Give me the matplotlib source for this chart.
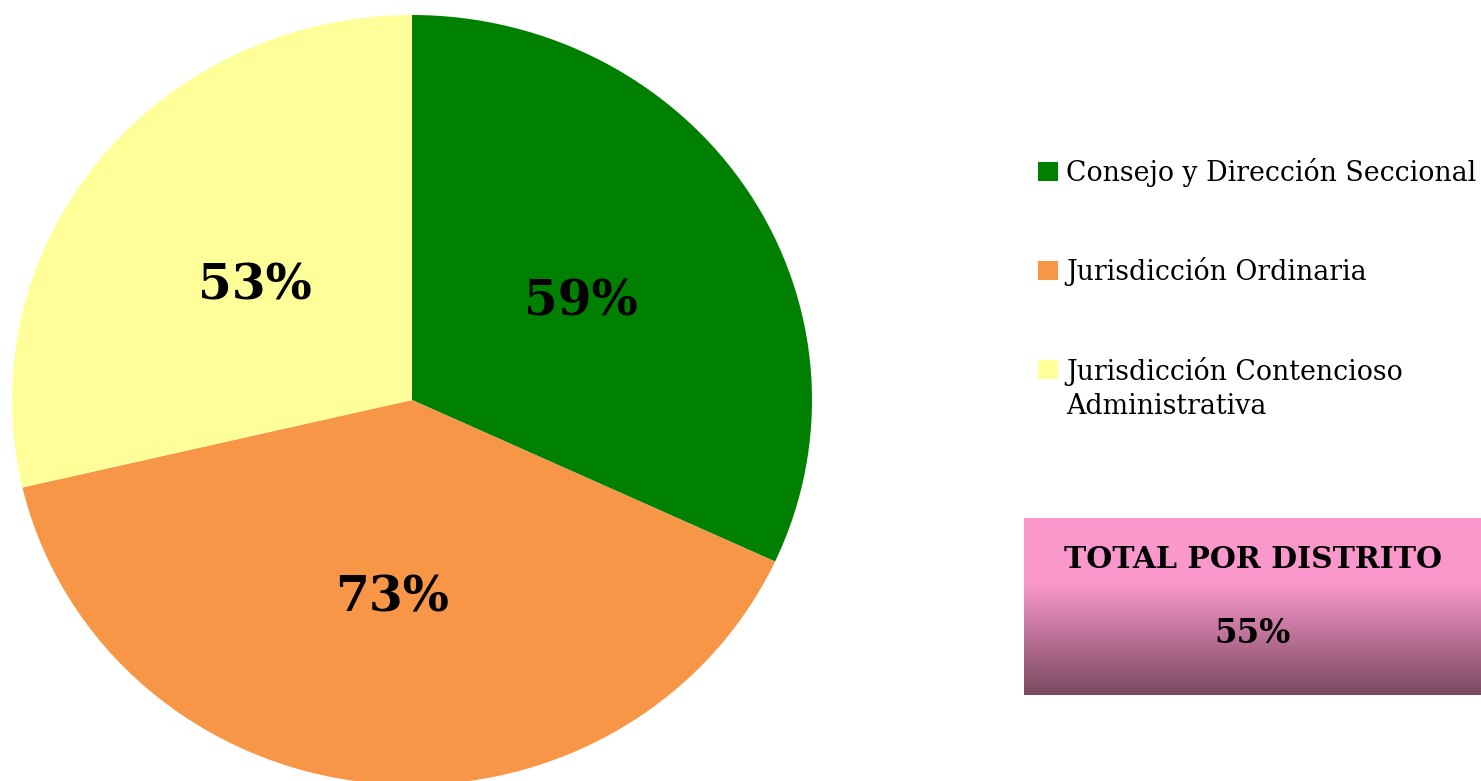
import numpy as np
import matplotlib.pyplot as plt
from matplotlib.patches import Rectangle
from matplotlib.transforms import offset_copy

# datos del grafico
categorias = ['Consejo y Dirección Seccional', 'Jurisdicción Ordinaria',
              'Jurisdicción Contencioso\nAdministrativa']
porcentajes = [59, 73, 53]
colores = ['#008000', '#F79646', '#FFFF99']
total_titulo = 'TOTAL POR DISTRITO'
total_valor = 55

W, H = 1481, 781
fig = plt.figure(figsize=(W / 100, H / 100), dpi=100)

# torta
ax = fig.add_axes([12 / W, -4 / H, 800 / W, 770 / H])
suma = sum(porcentajes)
wedges, textos, pcts = ax.pie(porcentajes, colors=colores, startangle=90,
                              counterclock=False,
                              autopct=lambda p: f'{round(p * suma / 100)}%',
                              pctdistance=0.5,
                              wedgeprops=dict(linewidth=0),
                              textprops=dict(family='DejaVu Serif', weight='bold',
                                             size=35, color='black'))
for t in pcts:
    t.set_transform(offset_copy(t.get_transform(), fig=fig, x=0, y=-6, units='dots'))
ax.set_aspect('auto')
ax.set_xlim(-1, 1)
ax.set_ylim(-1, 1)

# cuadro total con degradado
gax = fig.add_axes([1024 / W, (H - 695) / H, 457 / W, 177 / H])
t = np.linspace(0, 1, 200)
f = np.clip((t - 0.36) / 0.64, 0, 1)
arriba = np.array([250, 152, 204]) / 255
abajo = np.array([122, 73, 96]) / 255
grad = arriba[None, :] * (1 - f[:, None]) + abajo[None, :] * f[:, None]
gax.imshow(grad[:, None, :], aspect='auto', extent=[0, 1, 0, 1])
gax.axis('off')
gax.text(0.5, 0.765, total_titulo, transform=gax.transAxes, ha='center',
         va='center', family='DejaVu Serif', weight='bold', size=21.5)
gax.text(0.5, 0.35, f'{total_valor}%', transform=gax.transAxes, ha='center',
         va='center', family='DejaVu Serif', weight='bold', size=23.5)

# leyenda dibujada en pixeles
lax = fig.add_axes([0, 0, 1, 1])
lax.set_xlim(0, W)
lax.set_ylim(H, 0)
lax.axis('off')
lax.patch.set_visible(False)
bases = [181, 280, 379]
for nombre, color, yb in zip(categorias, colores, bases):
    lax.add_patch(Rectangle((1038, yb - 19), 20, 19, facecolor=color, linewidth=0))
    extra = 35 * nombre.count('\n')
    lax.text(1066, yb + extra, nombre, va='baseline', ha='left', family='DejaVu Serif',
             size=19.3, linespacing=1.35, color='black')

fig.savefig('out.png', dpi=100)
